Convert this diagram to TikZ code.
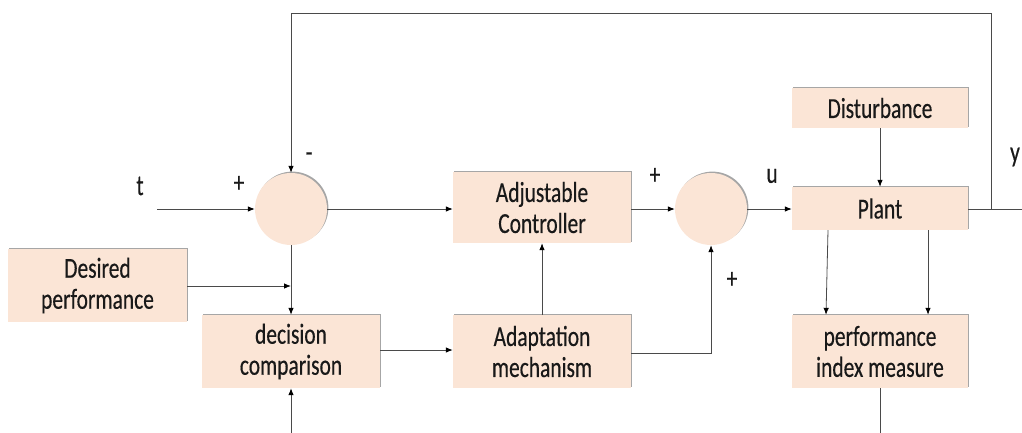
\documentclass[tikz,border=0pt]{standalone}
\usepackage{fontspec}
\setmainfont{Carlito}
\newfontfamily\lblfont[FakeStretch=0.74,FakeBold=0.4]{Carlito}
\usetikzlibrary{arrows.meta,shadows}
\definecolor{peach}{HTML}{FBE5D6}
\definecolor{lin}{HTML}{4A4A4A}
\tikzset{
  blockbox/.style={draw=none, fill=peach, inner sep=0pt, align=center,
    font=\lblfont\fontsize{29}{31}\selectfont, text=black!90,
    drop shadow={shadow xshift=1.4pt, shadow yshift=1.4pt, fill=black, opacity=0.35}},
  sumnode/.style={circle, draw=none, fill=peach, minimum size=72pt, inner sep=0pt,
    drop shadow={shadow xshift=1.4pt, shadow yshift=1.4pt, fill=black, opacity=0.35}},
  conn/.style={draw=lin, line width=0.8pt},
  arr/.style={conn, -{Latex[length=7pt,width=5.5pt,color=black]}},
  lbl/.style={font=\lblfont\fontsize{29}{31}\selectfont, text=black!90, inner sep=0pt}
}
\begin{document}
\begin{tikzpicture}[x=1pt,y=-1pt]
\useasboundingbox (0,0) rectangle (1022,433);
% blocks
\node[blockbox, minimum width=179pt, minimum height=73pt] (desired) at (97.5,285.5) {Desired\\performance};
\node[blockbox, minimum width=178pt, minimum height=73pt] (decision) at (291,351.5) {decision\\comparison};
\node[blockbox, minimum width=178pt, minimum height=71pt] (adjust) at (542,207.5) {Adjustable\\Controller};
\node[blockbox, minimum width=178pt, minimum height=73pt] (adapt) at (542,351.5) {Adaptation\\mechanism};
\node[blockbox, minimum width=176pt, minimum height=40pt] (disturb) at (880,108) {Disturbance};
\node[blockbox, minimum width=176pt, minimum height=43pt] (plant) at (880,208.5) {Plant};
\node[blockbox, minimum width=176pt, minimum height=73pt] (perf) at (880,351.5) {performance\\index measure};
\node[sumnode] (sum1) at (291,209) {};
\node[sumnode] (sum2) at (711,209) {};
% free ends
\coordinate (tin) at (157,209);
\coordinate (yout) at (1022,209);
\coordinate (fbx) at (991,209);
\coordinate (fbtop) at (991,13);
\coordinate (fbleft) at (291,13);
\coordinate (botin) at (291,433);
\coordinate (perfout) at (880,433);
\coordinate (dpjoin) at (291,286);
\coordinate (adcorner) at (711,353);
% connectors
\draw[arr] (tin) -- (sum1.west);
\draw[arr] (sum1.east) -- (sum1.east -| adjust.west);
\draw[arr] (sum2.west -| adjust.east) -- (sum2.west);
\draw[arr] (sum2.east) -- (sum2.east -| plant.west);
\draw[arr] (disturb.south) -- (plant.north);
\draw[arr] ([xshift=-52pt]plant.south) -- ([xshift=-54pt]perf.north);
\draw[arr] ([xshift=48pt]plant.south) -- ([xshift=48pt]perf.north);
\draw[conn] (perf.south) -- (perfout);
\draw[conn] (fbx -| plant.east) -- (yout);
\draw[arr] (fbx) -- (fbtop) -- (fbleft) -- (sum1.north);
\draw[arr] (sum1.south) -- (decision.north);
\draw[arr] (dpjoin -| desired.east) -- (dpjoin);
\draw[arr] (botin) -- (decision.south);
\draw[arr] ([yshift=1.5pt]decision.east) -- ([yshift=1.5pt]adapt.west);
\draw[arr] (adapt.north) -- (adjust.south);
\draw[arr] (adcorner -| adapt.east) -- (adcorner) -- (sum2.south);
% labels
\node[lbl] (lt) at (140,186) {t};
\node[lbl] (lp1) at (239,184) {+};
\node[lbl] (lm1) at (309,157) {-};
\node[lbl] (lp2) at (655,176) {+};
\node[lbl] (lu) at (772,176) {u};
\node[lbl] (lp3) at (732,280) {+};
\node[lbl] (ly) at (1015,157) {y};
\end{tikzpicture}
\end{document}
